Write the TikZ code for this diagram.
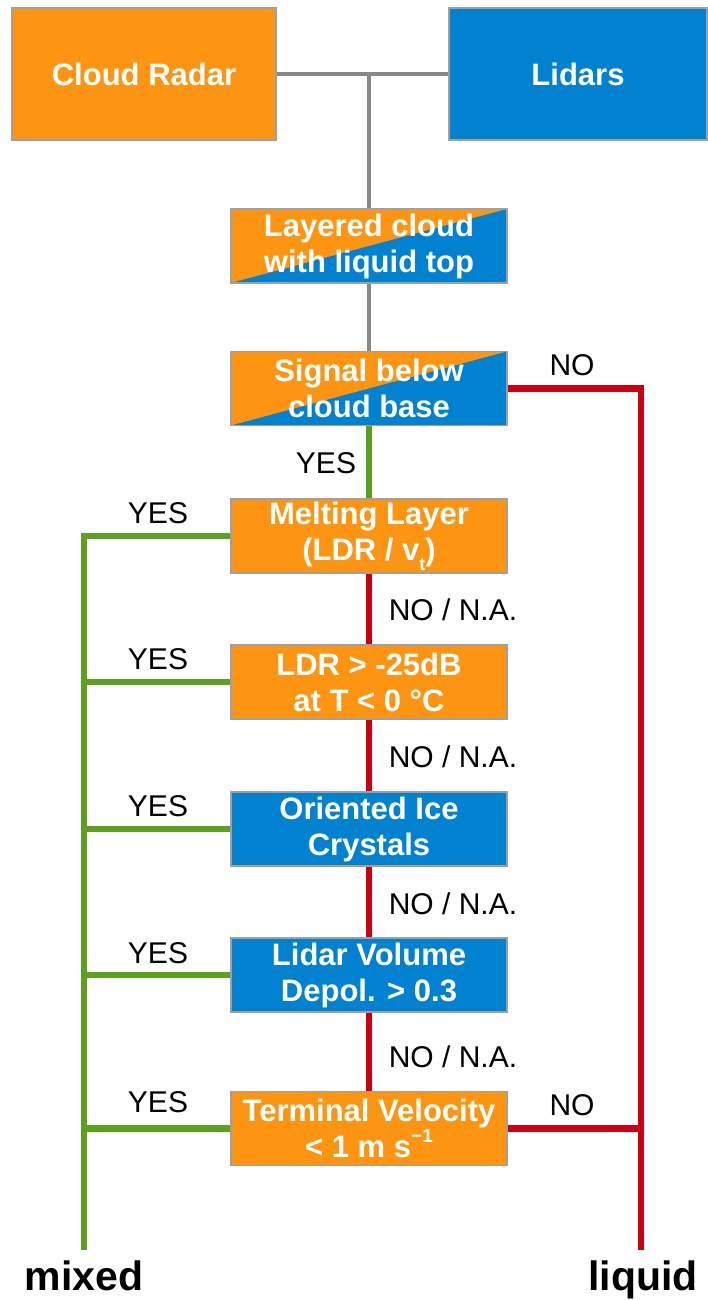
\documentclass[tikz,border=0pt]{standalone}
\usepackage{fontspec}
\setmainfont{Liberation Sans}
\begin{document}
\definecolor{radarorange}{RGB}{254,149,18}
\definecolor{lidarblue}{RGB}{0,130,208}
\definecolor{yesgreen}{RGB}{92,160,32}
\definecolor{nored}{RGB}{204,0,16}
\definecolor{joingray}{RGB}{136,136,136}
\definecolor{edgegray}{RGB}{160,160,160}
\tikzset{
  box/.style={draw=edgegray, line width=1.2pt, text=white, align=center,
    font=\fontsize{31}{36}\selectfont\bfseries, inner sep=0pt},
  stepbox/.style={box, minimum width=276pt, minimum height=74pt,
    execute at begin node={\rule{0pt}{0.95em}}},
  radarbox/.style={fill=radarorange},
  lidarbox/.style={fill=lidarblue},
  splitbox/.style={fill=radarorange, path picture={
      \fill[lidarblue] (path picture bounding box.south west) --
        (path picture bounding box.south east) --
        (path picture bounding box.north east) -- cycle;}},
  graylink/.style={draw=joingray, line width=3.5pt},
  yeslink/.style={draw=yesgreen, line width=6.5pt, line join=miter},
  nolink/.style={draw=nored, line width=6.5pt, line join=miter},
  lbl/.style={font=\fontsize{30}{34}\selectfont, text=black, inner sep=0pt},
  outcome/.style={font=\fontsize{41}{46}\selectfont\bfseries, text=black,
    inner sep=0pt, anchor=base}
}
\begin{tikzpicture}[x=1pt,y=-1pt]
\useasboundingbox (0,0) rectangle (707,1300);

% instruments
\node[box, radarbox, minimum width=264pt, minimum height=132pt] (radar) at (144,74) {Cloud Radar};
\node[box, lidarbox, minimum width=258pt, minimum height=132pt] (lidar) at (578,74) {Lidars};

% decision steps
\node[stepbox, splitbox] (layer) at (369,246) {Layered cloud\\with liquid top};
\node[stepbox, splitbox] (signal) at (369,388.5) {Signal below\\cloud base};
\node[stepbox, radarbox] (melt) at (369,536) {Melting Layer\\(LDR / v\raisebox{-0.6ex}{\fontsize{18}{18}\selectfont t})};
\node[stepbox, radarbox] (ldr) at (369,682) {LDR > -25dB\\at T < 0 °C};
\node[stepbox, lidarbox] (ice) at (369,829) {Oriented Ice\\Crystals};
\node[stepbox, lidarbox] (depol) at (369,975) {Lidar Volume\\Depol. > 0.3};
\node[stepbox, radarbox] (term) at (369,1128.5) {Terminal Velocity\\< 1 m s\raisebox{0.9ex}{\fontsize{19}{19}\selectfont −1}};

% joining of the instruments
\coordinate (join) at (369,74);
\draw[graylink] (radar.east) -- (lidar.west);
\draw[graylink] (join) -- (layer.north);
\draw[graylink] (layer.south) -- (signal.north);

% trunks towards the outcomes
\coordinate (gtop) at (84,536);
\coordinate (gbot) at (84,1250);
\coordinate (rtop) at (641,388.5);
\coordinate (rbot) at (641,1250);

% "no" branches
\draw[nolink] (signal.east) -- (rtop) -- (rbot);
\draw[nolink] (term.east) -- (term.east -| rtop);
\draw[nolink] (melt.south) -- (ldr.north);
\draw[nolink] (ldr.south) -- (ice.north);
\draw[nolink] (ice.south) -- (depol.north);
\draw[nolink] (depol.south) -- (term.north);

% "yes" branches
\draw[yeslink] (signal.south) -- (melt.north);
\draw[yeslink] (melt.west) -- (gtop) -- (gbot);
\draw[yeslink] (ldr.west) -- (ldr.west -| gtop);
\draw[yeslink] (ice.west) -- (ice.west -| gtop);
\draw[yeslink] (depol.west) -- (depol.west -| gtop);
\draw[yeslink] (term.west) -- (term.west -| gtop);

% branch labels
\node[lbl] (no1) at (572,365) {NO};
\node[lbl] (yes0) at (326,463) {YES};
\node[lbl] (yes1) at (158,513) {YES};
\node[lbl] (yes2) at (158,659) {YES};
\node[lbl] (yes3) at (158,806) {YES};
\node[lbl] (yes4) at (158,953) {YES};
\node[lbl] (yes5) at (158,1102) {YES};
\node[lbl] (na1) at (453,610) {NO / N.A.};
\node[lbl] (na2) at (453,757) {NO / N.A.};
\node[lbl] (na3) at (453,904) {NO / N.A.};
\node[lbl] (na4) at (453,1057) {NO / N.A.};
\node[lbl] (no2) at (572,1105) {NO};

% outcomes
\node[outcome] (mixed) at (84,1290) {mixed};
\node[outcome] (liquid) at (643,1290) {liquid};
\end{tikzpicture}
\end{document}
